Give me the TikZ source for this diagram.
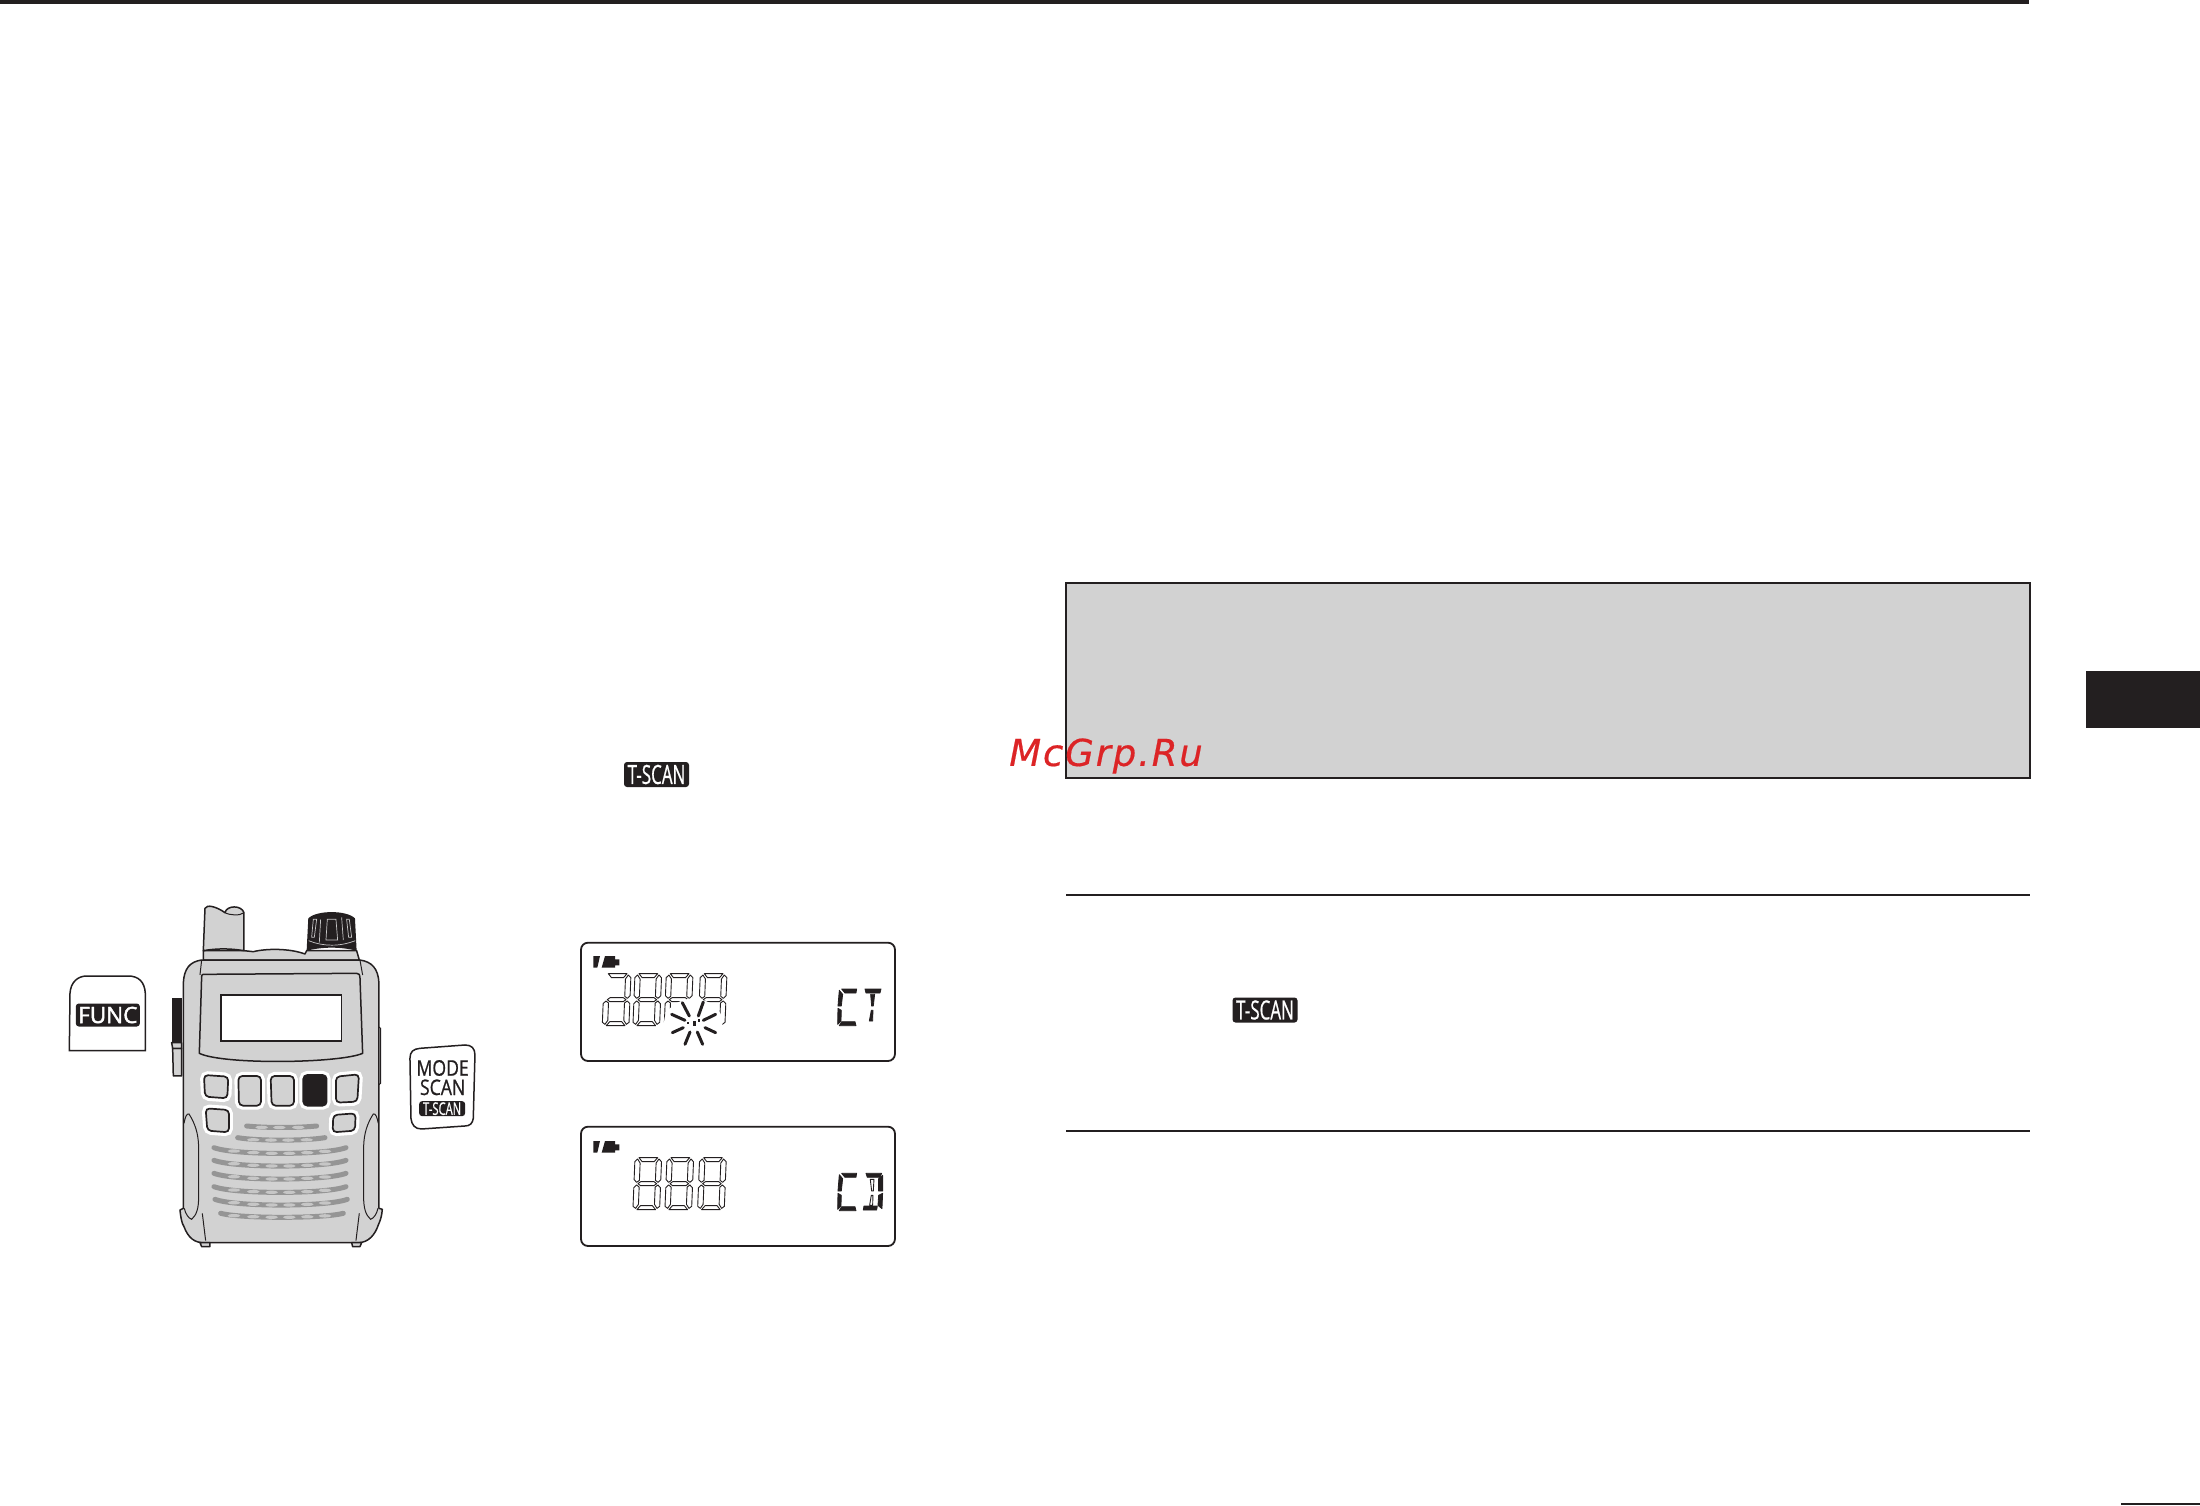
\documentclass[tikz,border=0pt]{standalone}
\usepackage{fontspec}
\setmainfont{Open Sans}
\newfontfamily\tagfont[FakeStretch=0.64,FakeBold=0.6]{Open Sans}
\newfontfamily\keyfont[FakeStretch=0.82,FakeBold=0.8]{Open Sans}
\newfontfamily\funcfont[FakeBold=2]{Open Sans}
\newfontfamily\markfont[LetterSpace=5,FakeBold=0.5]{DejaVu Sans}
\definecolor{inkblack}{HTML}{231F20}
\definecolor{panelgray}{HTML}{D2D2D2}
\definecolor{barsgray}{HTML}{959595}
\definecolor{slotgray}{HTML}{C6C6C6}
\definecolor{markred}{HTML}{DC2426}
\tikzset{
  rulebar/.style={fill=inkblack},
  radiopart/.style={draw=inkblack,fill=panelgray,line width=1.5pt,line join=round},
  radioline/.style={draw=inkblack,line width=1pt},
  keybtn/.style={draw=inkblack,line width=1.7pt,rounded corners=4pt,fill=panelgray,preaction={draw=white,line width=8pt}},
  keycap/.style={draw=inkblack,fill=white,line width=1.5pt},
  tagbox/.style={fill=inkblack,text=white,rounded corners=3pt,inner sep=0pt,font=\tagfont},
  lcdframe/.style={draw=inkblack,line width=1.8pt,rounded corners=7pt},
  lcdseg/.style={draw=inkblack,line width=0.9pt,line join=round},
  lcdsolid/.style={fill=inkblack,draw=inkblack,line width=0.8pt,line join=round},
  spark/.style={draw=inkblack,line width=3pt,line cap=round},
}
\newcommand\sega{(12,0)--(68,0)--(58,12)--(22,12)--cycle}
\newcommand\segb{(72,4)--(80,12)--(80,66)--(72,74)--(64,68)--(64,16)--cycle}
\newcommand\segc{(72,82)--(80,90)--(80,146)--(72,152)--(64,140)--(64,88)--cycle}
\newcommand\segd{(22,144)--(58,144)--(68,156)--(12,156)--cycle}
\newcommand\sege{(8,82)--(16,88)--(16,140)--(8,152)--(0,146)--(0,90)--cycle}
\newcommand\segf{(8,4)--(16,16)--(16,68)--(8,74)--(0,66)--(0,12)--cycle}
\newcommand\segg{(20,72)--(60,72)--(68,78)--(60,84)--(20,84)--(12,78)--cycle}
\newcommand\lcddigit[3]{
  \begin{scope}[shift={(#1,#2)},xslant=0.04]
    \foreach \s in {#3}{\draw[lcdseg] \csname seg\s\endcsname;}
  \end{scope}
}
\newcommand\grillebar[5]{
  \draw[barsgray,line width=5pt,line cap=round] (#2,#1) .. controls ({#2+60},{#1+#4}) and ({#3-60},{#1+#4}) .. (#3,#1);
  \foreach \sx in {#5}{
    \fill[slotgray] (\sx,{#1+0.75*#4*(1-((\sx-723)/220)^2)}) ellipse [x radius=19,y radius=5];
  }
}
\newcommand\lcdbattery{
  \fill[inkblack] (70,75) -- (90,75) -- (82,110) -- (70,110) -- cycle;
  \fill[inkblack] (105,75) -- (135,75) -- (135,85) -- (148,85) -- (148,103) -- (135,103) -- (135,110) -- (95,110) -- cycle;
}
\begin{document}
\begin{tikzpicture}[x=1pt,y=-1pt]
  \useasboundingbox (0,0) rectangle (2200,1505);
  \fill[white] (0,0) rectangle (2200,1505);
  % page furniture
  \fill[rulebar] (0,0) rectangle (2029,3.5);
  \fill[rulebar] (2086,671) rectangle (2200,728);
  \fill[rulebar] (2121,1503) rectangle (2200,1505);
  \fill[rulebar] (1066,894) rectangle (2030,896);
  \fill[rulebar] (1066,1130) rectangle (2030,1132);
  \draw[draw=inkblack,fill=panelgray,line width=2pt] (1066,583) rectangle (2030,778);
  \node[tagbox,minimum width=65pt,minimum height=25pt,font=\tagfont\fontsize{26.5}{26}\selectfont] (tscanA) at (656.5,774.5) {T-SCAN};
  \node[tagbox,minimum width=65pt,minimum height=25pt,font=\tagfont\fontsize{26.5}{26}\selectfont] (tscanB) at (1265,1010) {T-SCAN};
  % radio, in crop units
  \begin{scope}[shift={(40,880)},x=0.3333pt,y=-0.3333pt]
    % func key
    \draw[keycap] (88,512) -- (90,340) .. controls (92,305) and (115,288) .. (140,288) -- (265,288) .. controls (295,288) and (314,305) .. (316,340) -- (316,512) -- cycle;
    \node[tagbox,minimum width=64pt,minimum height=23pt,font=\funcfont\fontsize{22.5}{22}\selectfont] (funcTag) at (203.5,405) {FUNC};
    % mode key
    \draw[keycap] (1110,535) .. controls (1110,515) and (1120,507) .. (1140,505) -- (1275,495) .. controls (1295,495) and (1305,505) .. (1305,525) -- (1300,715) .. controls (1298,730) and (1290,738) .. (1275,738) -- (1145,747) .. controls (1125,747) and (1115,735) .. (1113,715) -- cycle;
    \node[inkblack,inner sep=0pt,font=\keyfont\fontsize{21.5}{21}\selectfont] (modeText) at (1208,564) {MODE};
    \node[inkblack,inner sep=0pt,font=\keyfont\fontsize{21.5}{21}\selectfont] (scanText) at (1208,622) {SCAN};
    \node[tagbox,minimum width=46pt,minimum height=15pt,font=\tagfont\fontsize{17.5}{17}\selectfont] (tscanC) at (1206.5,686) {T-SCAN};
    % antenna, knob, top band
    \draw[radiopart] (490,240) -- (490,212) -- (612,212) -- (640,215) .. controls (680,205) and (750,205) .. (795,222) -- (800,212) -- (950,212) -- (958,240) -- cycle;
    \draw[radiopart] (490,212) -- (495,85) .. controls (500,72) and (530,80) .. (555,98) .. controls (560,75) and (605,75) .. (612,98) -- (612,212) .. controls (570,205) and (530,205) .. (490,212) -- cycle;
    \draw[radioline] (555,98) .. controls (570,106) and (600,108) .. (612,98);
    \fill[inkblack] (800,212) -- (805,115) .. controls (830,90) and (920,90) .. (945,115) -- (950,212) .. controls (900,200) and (850,200) .. (800,212) -- cycle;
    \draw[slotgray,line width=0.7pt] (820,118) -- (815,172) -- (823,172) -- (830,118) -- cycle;
    \draw[slotgray,line width=0.7pt] (862,118) -- (888,118) -- (893,180) -- (858,180) -- cycle;
    \draw[slotgray,line width=0.7pt] (905,112) -- (910,180);
    \draw[slotgray,line width=0.7pt] (928,118) -- (935,172) -- (926,172) -- (920,118) -- cycle;
    \draw[slotgray,line width=0.7pt] (842,118) -- (838,188);
    \draw[slotgray,line width=0.7pt] (806,182) .. controls (850,200) and (900,200) .. (946,182);
    % side controls
    \fill[inkblack] (395,355) -- (425,355) -- (425,488) -- (395,488) -- cycle;
    \draw[radiopart] (398,505) -- (425,505) -- (425,588) -- (400,588) -- cycle;
    \draw[radiopart] (395,488) -- (425,488) -- (425,505) -- (398,505) -- cycle;
    \draw[radioline] (1015,440) -- (1022,445) -- (1022,610) -- (1015,615);
    % body
    \draw[radiopart] (485,240) .. controls (450,245) and (432,265) .. (430,310) -- (430,985) -- (420,990) .. controls (422,1010) and (425,1030) .. (432,1040) .. controls (445,1075) and (465,1088) .. (490,1088) -- (955,1088) .. controls (985,1088) and (1005,1065) .. (1015,1035) .. controls (1022,1020) and (1026,1005) .. (1027,988) -- (1017,985) -- (1017,310) .. controls (1015,265) and (995,245) .. (960,240) -- cycle;
    \draw[radioline] (485,240) -- (480,285);
    \draw[radioline] (960,240) -- (968,285);
    \draw[radioline] (487,1000) -- (497,1082);
    \draw[radioline] (958,1000) -- (948,1082);
    \draw[radiopart] (480,1088) -- (510,1088) -- (510,1100) -- (485,1100) -- cycle;
    \draw[radiopart] (935,1088) -- (965,1088) -- (960,1100) -- (938,1100) -- cycle;
    % grips
    \foreach \side in {0,1}{
      \begin{scope}[shift={(\side*1447,0)},xscale={1-2*\side}]
        \draw[radioline] (432,730) .. controls (436,710) and (440,700) .. (447,702) .. controls (465,730) and (475,760) .. (476,800) -- (476,950) .. controls (476,985) and (470,1005) .. (455,1018) .. controls (445,1015) and (436,1000) .. (433,985);
      \end{scope}
    }
    % display panel
    \draw[radiopart] (490,283) -- (950,280) .. controls (958,280) and (960,285) .. (960,292) -- (968,520) .. controls (900,550) and (550,555) .. (478,520) -- (485,290) .. controls (485,285) and (487,283) .. (490,283) -- cycle;
    \draw[draw=inkblack,fill=white,line width=1.5pt] (543,345) rectangle (905,483);
    % keys
    \draw[keybtn] (492,585) -- (565,590) -- (562,655) -- (495,650) -- cycle;
    \draw[keybtn] (595,588) -- (663,588) -- (663,677) -- (597,677) -- cycle;
    \draw[keybtn] (692,588) -- (762,588) -- (762,677) -- (695,677) -- cycle;
    \draw[keybtn,fill=inkblack] (790,585) -- (860,585) -- (860,677) -- (790,677) -- cycle;
    \draw[keybtn] (888,590) -- (957,583) -- (952,665) -- (888,668) -- cycle;
    \draw[keybtn] (497,685) -- (567,690) -- (567,757) -- (502,752) -- cycle;
    \draw[keybtn] (880,705) -- (947,700) -- (945,752) -- (878,757) -- cycle;
    % speaker
    \grillebar{738}{620}{830}{6}{665,718,775}
    \grillebar{773}{593}{855}{10}{640,693,745,800}
    \grillebar{803}{522}{918}{23}{582,640,695,748,802,855}
    \grillebar{841}{522}{918}{23}{582,640,695,748,802,855}
    \grillebar{880}{522}{918}{23}{582,640,695,748,802,855}
    \grillebar{920}{522}{918}{23}{582,640,695,748,802,855}
    \grillebar{958}{525}{922}{23}{582,640,695,748,802,855}
    \grillebar{1000}{542}{910}{16}{582,640,695,748,802,855}
  \end{scope}
  % upper display
  \begin{scope}[shift={(570,931)},x=0.3333pt,y=-0.3333pt]
    \draw[lcdframe] (33,35) rectangle (975,390);
    \lcdbattery
    \lcddigit{103}{128}{a,b,c,d,e,g}
    \lcddigit{195}{128}{a,b,c,d,e,f,g}
    \lcddigit{289}{128}{a,b,c,d,e,f,g}
    \lcddigit{391}{128}{a,b,c,f,g}
    \fill[white] (370,275) ellipse [x radius=88,y radius=72];
    \draw[spark] (305,250) -- (345,268);
    \draw[spark] (337,215) -- (358,255);
    \draw[spark] (400,213) -- (385,255);
    \draw[spark] (437,250) -- (400,268);
    \draw[spark] (307,305) -- (340,290);
    \draw[spark] (345,340) -- (360,303);
    \draw[spark] (398,340) -- (382,303);
    \draw[spark] (437,305) -- (405,290);
    \fill[inkblack] (368,270) rectangle (378,285);
    \fill[inkblack] (352,272) rectangle (356,280);
    \fill[inkblack] (385,264) rectangle (389,272);
    % CT
    \filldraw[lcdsolid] (815,174) -- (860,174) -- (858,186) -- (825,186) -- cycle;
    \filldraw[lcdsolid] (808,178) -- (818,190) -- (814,225) -- (804,225) -- cycle;
    \filldraw[lcdsolid] (804,232) -- (814,238) -- (813,270) -- (803,280) -- cycle;
    \filldraw[lcdsolid] (815,272) -- (855,272) -- (858,284) -- (808,284) -- cycle;
    \filldraw[lcdsolid] (885,174) -- (933,174) -- (930,186) -- (888,186) -- cycle;
    \filldraw[lcdsolid] (902,190) -- (914,190) -- (910,225) -- (905,225) -- cycle;
    \filldraw[lcdsolid] (904,238) -- (909,238) -- (908,270) -- (898,270) -- cycle;
  \end{scope}
  % lower display
  \begin{scope}[shift={(570,1116)},x=0.3333pt,y=-0.3333pt]
    \draw[lcdframe] (33,32) rectangle (975,390);
    \lcdbattery
    \lcddigit{195}{125}{a,b,c,d,e,f,g}
    \lcddigit{291}{125}{a,b,c,d,e,f,g}
    \lcddigit{389}{125}{a,b,c,d,e,f,g}
    % CD
    \filldraw[lcdsolid] (815,172) -- (860,172) -- (858,184) -- (825,184) -- cycle;
    \filldraw[lcdsolid] (808,176) -- (818,188) -- (814,225) -- (804,225) -- cycle;
    \filldraw[lcdsolid] (804,232) -- (814,238) -- (813,270) -- (803,280) -- cycle;
    \filldraw[lcdsolid] (815,272) -- (855,272) -- (858,284) -- (808,284) -- cycle;
    \filldraw[lcdsolid] (888,172) -- (935,172) -- (930,184) -- (892,184) -- cycle;
    \filldraw[lcdsolid] (938,178) -- (938,225) -- (926,225) -- (926,188) -- cycle;
    \filldraw[lcdsolid] (926,238) -- (938,232) -- (936,278) -- (924,268) -- cycle;
    \filldraw[lcdsolid] (882,270) -- (922,270) -- (920,282) -- (880,282) -- cycle;
    \draw[lcdseg] (901,190) -- (912,190) -- (910,225) -- (905,225) -- cycle;
    \draw[lcdseg] (904,238) -- (909,238) -- (908,268) -- (899,268) -- cycle;
  \end{scope}
  % site mark
  \node[markred,inner sep=0pt,font=\markfont\itshape\fontsize{37}{37}\selectfont] (siteMark) at (1106,756) {McGrp.Ru};
\end{tikzpicture}
\end{document}
